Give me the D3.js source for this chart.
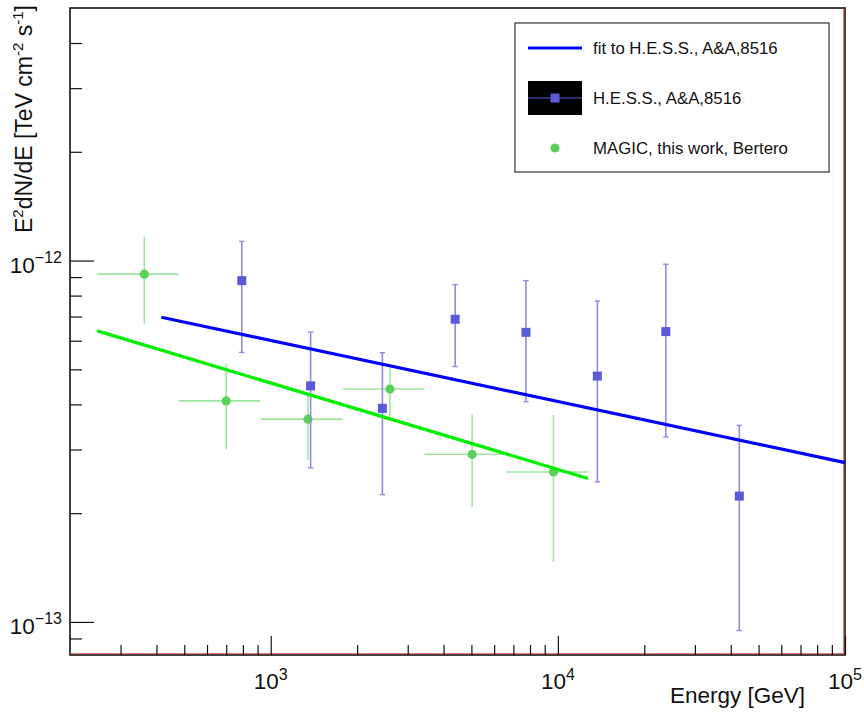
<!DOCTYPE html>
<html>
<head>
<meta charset="utf-8">
<script src="https://cdn.jsdelivr.net/npm/d3@7"></script>
<style>
  html, body { margin: 0; padding: 0; background: #ffffff; }
  svg { display: block; font-family: "Liberation Sans", Arial, Helvetica, sans-serif; }
</style>
</head>
<body>
<svg id="chart" width="864" height="713"></svg>
<script>
// ---------------- data ----------------
const hessE   = [793, 1377, 2449, 4390, 7743, 13725, 23770, 42850];
const hessF   = [8.8e-13, 4.5e-13, 3.9e-13, 6.88e-13, 6.33e-13, 4.79e-13, 6.36e-13, 2.23e-13];
const hessFhi = [1.13e-12, 6.34e-13, 5.56e-13, 8.58e-13, 8.8e-13, 7.73e-13, 9.77e-13, 3.5e-13];
const hessFlo = [5.57e-13, 2.67e-13, 2.25e-13, 5.09e-13, 4.07e-13, 2.44e-13, 3.25e-13, 9.47e-14];

const magicE   = [363, 700, 1348, 2602, 5028, 9654];
const magicElo = [249, 479, 923, 1786, 3435, 6598];
const magicEhi = [477, 918, 1778, 3435, 6598, 12774];
const magicF   = [9.17e-13, 4.09e-13, 3.64e-13, 4.41e-13, 2.91e-13, 2.60e-13];
const magicFhi = [1.165e-12, 5.18e-13, 4.31e-13, 5.03e-13, 3.75e-13, 3.74e-13];
const magicFlo = [6.68e-13, 3.01e-13, 2.81e-13, 3.68e-13, 2.08e-13, 1.466e-13];

const fitHessE  = [416, 100000];
const fitHessF  = [6.97e-13, 2.76e-13];
const fitMagicE = [249, 12735];
const fitMagicF = [6.39e-13, 2.495e-13];

const xMajor = [1e3, 1e4, 1e5];
const xMajorExp = ["3", "4", "5"];
const xMinor = [300,400,500,600,700,800,900,2000,3000,4000,5000,6000,7000,8000,9000,
                20000,30000,40000,50000,60000,70000,80000,90000];
const yMajor = [1e-13, 1e-12];
const yMajorExp = ["\u221213", "\u221212"];
const yMinor = [9e-14,2e-13,3e-13,4e-13,5e-13,6e-13,7e-13,8e-13,9e-13,2e-12,3e-12,4e-12];

const legendLabels = ["fit to H.E.S.S., A&A,8516", "H.E.S.S., A&A,8516", "MAGIC, this work, Bertero"];

// ---------------- layout ----------------
const L = 70, R = 845, T = 8, B = 655;
const svg = d3.select("#chart");

const x = d3.scaleLog().domain([200, 1e5]).range([L, R]);
const y = d3.scaleLog().domain([8.1e-14, 5e-12]).range([B, T]);

const hessCol = "#5a5ad9", hessErr = "#8c8ce6";
const magCol = "#5ad15a", magErr = "#9ee69e";

// frame
svg.append("rect").attr("x", L).attr("y", T).attr("width", R - L).attr("height", B - T)
  .attr("fill", "white").attr("stroke", "#111").attr("stroke-width", 1.6);
svg.append("line").attr("x1", L).attr("x2", R - 1.3).attr("y1", B - 1.3).attr("y2", B - 1.3)
  .attr("stroke", "#e05050").attr("stroke-width", 1);
svg.append("line").attr("x1", R - 1.3).attr("x2", R - 1.3).attr("y1", T).attr("y2", B - 1.3)
  .attr("stroke", "#e05050").attr("stroke-width", 1);

// axes (ticks inside)
function styleAxis(g) {
  g.select(".domain").remove();
  g.selectAll(".tick line").attr("stroke", "#111").attr("stroke-width", 1.2);
}
svg.append("g").attr("transform", `translate(0,${B})`)
  .call(d3.axisBottom(x).tickValues(xMinor).tickSize(-10).tickFormat(""))
  .call(styleAxis);
svg.append("g").attr("transform", `translate(0,${B})`)
  .call(d3.axisBottom(x).tickValues(xMajor).tickSize(-19).tickFormat(""))
  .call(styleAxis);
svg.append("g").attr("transform", `translate(${L},0)`)
  .call(d3.axisLeft(y).tickValues(yMinor).tickSize(-12).tickFormat(""))
  .call(styleAxis);
svg.append("g").attr("transform", `translate(${L},0)`)
  .call(d3.axisLeft(y).tickValues(yMajor).tickSize(-24).tickFormat(""))
  .call(styleAxis);

// tick labels with superscripts
xMajor.forEach((v, i) => {
  const t = svg.append("text").attr("x", x(v)).attr("y", 689).attr("text-anchor", "middle")
    .attr("font-size", 22.5).attr("fill", "#111");
  t.append("tspan").text("10");
  t.append("tspan").attr("font-size", 16).attr("dy", -9).text(xMajorExp[i]);
});
yMajor.forEach((v, i) => {
  const t = svg.append("text").attr("x", 62).attr("y", y(v) + 12).attr("text-anchor", "end")
    .attr("font-size", 22.5).attr("fill", "#111");
  t.append("tspan").text("10");
  t.append("tspan").attr("font-size", 16).attr("dy", -10).text(yMajorExp[i]);
});

// axis titles
svg.append("text").attr("x", 805).attr("y", 703).attr("text-anchor", "end")
  .attr("font-size", 22.5).attr("fill", "#111").text("Energy [GeV]");
const yt = svg.append("text").attr("transform", "translate(32,5) rotate(-90)")
  .attr("text-anchor", "end").attr("font-size", 23).attr("fill", "#111");
yt.append("tspan").text("E");
yt.append("tspan").attr("font-size", 15).attr("dy", -9).text("2");
yt.append("tspan").attr("dy", 9).text("dN/dE [TeV cm");
yt.append("tspan").attr("font-size", 15).attr("dy", -9).text("-2");
yt.append("tspan").attr("dy", 9).text(" s");
yt.append("tspan").attr("font-size", 15).attr("dy", -9).text("-1");
yt.append("tspan").attr("dy", 9).text("]");

// MAGIC error bars
const magic = magicE.map((e, i) => ({e, f: magicF[i], elo: magicElo[i], ehi: magicEhi[i], flo: magicFlo[i], fhi: magicFhi[i]}));
const gm = svg.append("g");
gm.selectAll("line.h").data(magic).join("line")
  .attr("x1", d => x(d.elo)).attr("x2", d => x(d.ehi)).attr("y1", d => y(d.f)).attr("y2", d => y(d.f))
  .attr("stroke", magErr).attr("stroke-width", 1.6);
gm.selectAll("line.v").data(magic).join("line")
  .attr("x1", d => x(d.e)).attr("x2", d => x(d.e)).attr("y1", d => y(d.flo)).attr("y2", d => y(d.fhi))
  .attr("stroke", magErr).attr("stroke-width", 1.6);

// HESS error bars
const hess = hessE.map((e, i) => ({e, f: hessF[i], flo: hessFlo[i], fhi: hessFhi[i]}));
const gh = svg.append("g");
gh.selectAll("line.v").data(hess).join("line")
  .attr("x1", d => x(d.e)).attr("x2", d => x(d.e)).attr("y1", d => y(d.flo)).attr("y2", d => y(d.fhi))
  .attr("stroke", hessErr).attr("stroke-width", 1.6);
["flo", "fhi"].forEach(k => {
  gh.selectAll("line.c" + k).data(hess).join("line")
    .attr("x1", d => x(d.e) - 2.7).attr("x2", d => x(d.e) + 2.7).attr("y1", d => y(d[k])).attr("y2", d => y(d[k]))
    .attr("stroke", hessErr).attr("stroke-width", 1.4);
});

// fit lines
const line = d3.line().x(d => x(d[0])).y(d => y(d[1]));
svg.append("path").datum(fitMagicE.map((e, i) => [e, fitMagicF[i]])).attr("d", line)
  .attr("fill", "none").attr("stroke", "#00ee00").attr("stroke-width", 3.2);
svg.append("path").datum(fitHessE.map((e, i) => [e, fitHessF[i]])).attr("d", line)
  .attr("fill", "none").attr("stroke", "#0000ff").attr("stroke-width", 3.2);

// markers
gm.selectAll("circle").data(magic).join("circle")
  .attr("cx", d => x(d.e)).attr("cy", d => y(d.f)).attr("r", 4.6).attr("fill", magCol);
gh.selectAll("rect").data(hess).join("rect")
  .attr("x", d => x(d.e) - 4.5).attr("y", d => y(d.f) - 4.5).attr("width", 9).attr("height", 9)
  .attr("fill", hessCol);

// legend
const lg = svg.append("g");
lg.append("rect").attr("x", 515).attr("y", 23).attr("width", 314).attr("height", 149)
  .attr("fill", "white").attr("stroke", "#333").attr("stroke-width", 1.2);
const rowY = [48, 98, 148];
lg.append("line").attr("x1", 528).attr("x2", 582).attr("y1", rowY[0]).attr("y2", rowY[0])
  .attr("stroke", "#0000ff").attr("stroke-width", 3.2);
lg.append("rect").attr("x", 528).attr("y", 81).attr("width", 54).attr("height", 34).attr("fill", "#000");
lg.append("line").attr("x1", 528).attr("x2", 582).attr("y1", rowY[1]).attr("y2", rowY[1])
  .attr("stroke", hessCol).attr("stroke-width", 1.2);
lg.append("rect").attr("x", 555 - 4.5).attr("y", rowY[1] - 4.5).attr("width", 9).attr("height", 9).attr("fill", hessCol);
lg.append("circle").attr("cx", 555).attr("cy", rowY[2]).attr("r", 4.6).attr("fill", magCol);
legendLabels.forEach((s, i) => {
  lg.append("text").attr("x", 593).attr("y", rowY[i]).attr("dy", "0.35em")
    .attr("font-size", 16.8).attr("fill", "#111").text(s);
});
</script>
</body>
</html>
